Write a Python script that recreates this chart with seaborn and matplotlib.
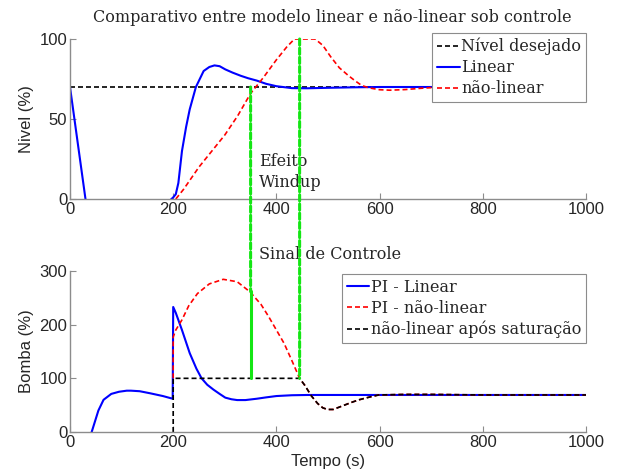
import matplotlib
matplotlib.use('Agg')
import matplotlib.pyplot as plt
import seaborn as sns
from matplotlib.patches import ConnectionPatch

# ---- dados ----
# nivel (%) - modelo linear
t_nivel_lin = [0, 30, 60, 120, 170, 190, 200, 205, 210, 217, 225, 232, 244, 259, 270, 280, 290,
               301, 315, 331, 345, 362, 380, 400, 430, 460, 500, 550, 600, 700, 800, 1000]
nivel_lin = [70, 0, -30, -45, -20, -2, 1, 3, 10, 30, 45, 56, 70, 80, 82.5, 83.5, 83,
             81, 79, 77, 75.5, 74, 72, 70.5, 69.3, 69.2, 69.5, 69.8, 70, 70, 70, 70]

# nivel (%) - modelo nao-linear
t_nivel_nl = [205, 220, 250, 280, 300, 325, 350, 375, 400, 420, 435, 475, 490, 505, 522, 540,
              552, 565, 579, 600, 620, 650, 680, 720, 800, 1000]
nivel_nl = [0, 6, 20, 32, 40, 52, 66, 76, 87, 95, 100, 100, 96, 89, 82, 77,
            74, 71, 69.5, 68.3, 68, 68.4, 69.2, 70, 70, 70]

# nivel desejado
t_ref = [0, 1000]
nivel_ref = [70, 70]

# sinal de controle (%) - PI linear
t_pi_lin = [0, 20, 42, 55, 65, 80, 95, 110, 118, 135, 156, 180, 199, 200, 205, 217, 232, 245,
            255, 266, 278, 290, 301, 313, 324, 340, 362, 380, 400, 430, 461, 500, 600, 800, 1000]
pi_lin = [-90, -45, 0, 40, 60, 71, 75, 77, 77, 76, 72, 67, 62, 233, 222, 190, 147, 118,
          100, 88, 79, 71, 64, 61, 59.5, 59.5, 62, 64.5, 67, 68.5, 69, 69, 69, 69, 69]

# sinal de controle (%) - PI nao-linear
t_pi_nl = [200, 200, 205, 217, 230, 247, 270, 297, 324, 349, 370, 385, 400, 415, 430, 445,
           455, 468, 480, 490, 499, 510, 529, 545, 560, 580, 598, 650, 700, 800, 1000]
pi_nl = [100, 177, 190, 209, 235, 258, 276, 284.5, 280, 261, 238, 215, 190, 165, 133, 100,
         87, 67, 53, 45, 42, 42, 49, 55, 60, 65, 69, 70, 70, 69, 69]

# nao-linear apos saturacao
t_sat = [200, 200, 445, 455, 468, 480, 490, 499, 510, 529, 545, 560, 580, 598, 650, 700, 800, 1000]
pi_sat = [0, 100, 100, 87, 67, 53, 45, 42, 42, 49, 55, 60, 65, 69, 70, 70, 69, 69]

# marcas do efeito windup
t_windup = [350, 445]
nivel_windup = [70, 100]
bomba_windup_topo = [262, 100]
bomba_windup_base = 100

sns.set_style('white')
plt.rcParams['font.family'] = ['Liberation Sans', 'DejaVu Sans']
serif = ['DejaVu Serif']
verde = '#14e614'
cinza = '#8c8c8c'

fig = plt.figure(figsize=(6.18, 4.73), dpi=100)
ax1 = fig.add_axes([70 / 618, 1 - 199 / 473, 516 / 618, 160 / 473])
ax2 = fig.add_axes([70 / 618, 1 - 432 / 473, 516 / 618, 161 / 473])

# grafico de nivel
sns.lineplot(x=t_ref, y=nivel_ref, ax=ax1, color='k', lw=1.2,
             sort=False, estimator=None, label='Nível desejado')
ax1.lines[-1].set_dashes((3, 1.8))
sns.lineplot(x=t_nivel_lin, y=nivel_lin, ax=ax1, color='#0000ff', lw=1.5,
             sort=False, estimator=None, label='Linear')
sns.lineplot(x=t_nivel_nl, y=nivel_nl, ax=ax1, color='#ff0000', lw=1.2,
             sort=False, estimator=None, label='não-linear')
ax1.lines[-1].set_dashes((3, 1.8))

# grafico da bomba
sns.lineplot(x=t_pi_lin, y=pi_lin, ax=ax2, color='#0000ff', lw=1.5,
             sort=False, estimator=None, label='PI - Linear')
sns.lineplot(x=t_pi_nl, y=pi_nl, ax=ax2, color='#ff0000', lw=1.2,
             sort=False, estimator=None, label='PI - não-linear')
ax2.lines[-1].set_dashes((3, 1.8))
sns.lineplot(x=t_sat, y=pi_sat, ax=ax2, color='k', lw=1.2,
             sort=False, estimator=None, label='não-linear após saturação')
ax2.lines[-1].set_dashes((3, 1.8))

for ax, ylim, yt in [(ax1, (0, 100), [0, 50, 100]), (ax2, (0, 300), [0, 100, 200, 300])]:
    ax.set_xlim(0, 1000)
    ax.set_ylim(*ylim)
    ax.set_xticks([0, 200, 400, 600, 800, 1000])
    ax.set_yticks(yt)
    ax.tick_params(direction='in', length=4, color=cinza, labelsize=12, pad=2,
                   bottom=True, left=True)
    for s in ['top', 'right']:
        ax.spines[s].set_visible(False)
    for s in ['left', 'bottom']:
        ax.spines[s].set_color(cinza)
        ax.spines[s].set_linewidth(1.0)

ax1.set_ylabel('Nivel (%)', fontsize=12)
ax1.yaxis.set_label_coords(-0.07, 0.5)
ax1.set_xlabel('')
ax2.set_ylabel('Bomba (%)', fontsize=12)
ax2.yaxis.set_label_coords(-0.07, 0.5)
ax2.set_xlabel('Tempo (s)', fontsize=12)
ax2.xaxis.set_label_coords(0.5, -0.135)

leg_kw = dict(loc='upper right', frameon=True, fancybox=False, framealpha=1,
              edgecolor=cinza, borderaxespad=0, handlelength=1.4, handletextpad=0.1,
              labelspacing=0.25, borderpad=0.3, prop={'family': serif, 'size': 11.5})
l1 = ax1.legend(bbox_to_anchor=(1.0, 1.0375), **leg_kw)
l2 = ax2.legend(bbox_to_anchor=(1.0, 0.981), **leg_kw)
for l in (l1, l2):
    l.get_frame().set_linewidth(0.8)
    l.set_zorder(5)

# linhas verdes do windup
for t, n, b in zip(t_windup, nivel_windup, bomba_windup_topo):
    con = ConnectionPatch(xyA=(t, n), coordsA=ax1.transData, xyB=(t, b), coordsB=ax2.transData,
                          color=verde, lw=2.2, linestyle=(0, (2, 1)), zorder=4)
    fig.add_artist(con)
sns.lineplot(x=[t_windup[0], t_windup[0]], y=[bomba_windup_base, bomba_windup_topo[0]], ax=ax2,
             color=verde, lw=2.2, sort=False, estimator=None, legend=False)

ax1.text(366, 16.6, 'Efeito\nWindup', family=serif, fontsize=11.5, va='center', ha='left',
         linespacing=1.3)
ax2.text(366, 330, 'Sinal de Controle', family=serif, fontsize=11.5, va='center', ha='left',
         clip_on=False)
fig.text(332 / 618, 1 - 18 / 473, 'Comparativo entre modelo linear e não-linear sob controle',
         family=serif, fontsize=11.5, ha='center', va='center')

fig.savefig('out.png', dpi=100)
